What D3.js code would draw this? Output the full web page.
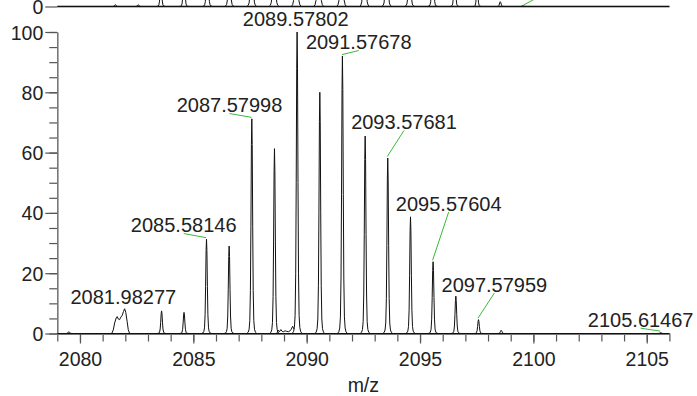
<!DOCTYPE html>
<html><head><meta charset="utf-8">
<script src="https://cdn.jsdelivr.net/npm/d3@7"></script>
<style>
body{margin:0;background:#fff}
svg{display:block}
text{font-family:"Liberation Sans",Arial,sans-serif;fill:#222}
</style>
</head><body>
<svg id="chart" width="697" height="396"></svg>
<script>
// ---------------- data ----------------
const mzDomain = [2079, 2106];
const intDomain = [0, 100];
const xTickValues = [2080, 2085, 2090, 2095, 2100, 2105];
const yTickValues = [0, 20, 40, 60, 80, 100];
const xAxisTitle = "m/z";

// bottom spectrum: isolated peaks (m/z, relative intensity)
const peakMz  = [2079.51, 2083.60, 2084.59, 2085.58146, 2086.58, 2087.57998, 2088.58, 2089.57802,
                 2090.58, 2091.57678, 2092.58, 2093.57681, 2094.58, 2095.57604, 2096.58, 2097.57959,
                 2098.58, 2105.61467];
const peakInt = [0.6, 7.5, 7.0, 31.3, 29.0, 71.2, 61.3, 100,
                 80.0, 92.0, 65.5, 58.2, 38.7, 23.8, 12.4, 4.6,
                 1.1, 0.3];

// bottom spectrum: unresolved profile around 2082 and noise near 2089
const clusterProfile = [[2081.40,0],[2081.47,1.2],[2081.53,3.5],[2081.60,5.2],[2081.64,5.6],[2081.69,4.8],
                        [2081.75,4.6],[2081.80,5.4],[2081.86,6.0],[2081.92,7.3],[2081.97,8.2],[2082.02,7.0],
                        [2082.08,4.0],[2082.13,1.3],[2082.19,0]];
const noiseProfile = [[2088.68,0],[2088.74,1.1],[2088.80,0.6],[2088.86,1.3],[2088.92,0.7],[2088.98,0.6],
                      [2089.05,0.9],[2089.12,0.7],[2089.20,0.6],[2089.27,0.9],[2089.32,1.4],[2089.38,2.4],[2089.44,1.5]];

// labelled peaks
const labelMz  = [2081.98277, 2085.58146, 2087.57998, 2089.57802, 2091.57678, 2093.57681, 2095.57604, 2097.57959, 2105.61467];
const labelInt = [8.2, 31.3, 71.2, 100, 92.0, 58.2, 23.8, 4.6, 0.3];

// top (truncated) spectrum
const topPeakMz  = [2081.56, 2082.57, 2083.57, 2084.59, 2085.62, 2086.59, 2087.58, 2088.56, 2089.54, 2090.53,
                    2091.54, 2092.55, 2093.53, 2094.54, 2095.56, 2096.53, 2097.52, 2098.54, 2099.54];
const topPeakInt = [0.6, 0.6, 9, 14, 28, 36, 60, 72, 95, 100,
                    92, 78, 58, 42, 26, 14, 6, 1.6, 0.3];
const topLabelMz = [2099.54];
const topLabelInt = [0.3];

// ---------------- layout / style ----------------
const W = 697, H = 396;
const plotLeft = 57.3, plotRight = 669.4;
const bottomZero = 333.5, bottomTop = 32;
const topZero = 6.5;
const textColor = "#222", axisColor = "#777", tickColor = "#555", lineColor = "#111", leaderColor = "#3cb83c";
const fontSize = 20, tickFont = 19.5;
// peak outline template: [pixel offset from centre, fraction of peak height]
const peakShape = [[-5,0],[-3.6,0.006],[-2.7,0.02],[-2.0,0.06],[-1.4,0.2],[-0.9,0.5],[-0.4,0.88],[0,1],
                   [0.4,0.88],[0.9,0.5],[1.4,0.2],[2.0,0.06],[2.7,0.02],[3.6,0.006],[5,0]];
// label placement: [dx, dy (baseline) from peak top in px, draw leader]
const labelLayout = [[-1.6,-4.8,false],[-22.8,-6.8,true],[-22.3,-6.5,true],[-1.4,-6.3,false],[16.3,-6.8,true],
                     [16.2,-28.7,true],[15.6,-51,true],[15.9,-27.9,true],[-20,-5.6,true]];
const topLabelLayout = [[20,-11]];

const svg = d3.select("#chart");
const x = d3.scaleLinear().domain(mzDomain).range([plotLeft, plotRight]);
const y = d3.scaleLinear().domain(intDomain).range([bottomZero, bottomTop]);
const yTop = d3.scaleLinear().domain(intDomain).range([topZero, topZero - (bottomZero - bottomTop)]);

// ---------- axes (bottom panel) ----------
// y minor
const yMinor = svg.append("g").attr("transform", `translate(${plotLeft},0)`)
  .call(d3.axisLeft(y).tickValues(d3.range(0, 101, 5)).tickSize(8).tickSizeOuter(0).tickFormat(""));
yMinor.select(".domain").remove();
yMinor.selectAll("line").attr("stroke", tickColor).attr("stroke-width", 1.2);

const yAx = svg.append("g").attr("transform", `translate(${plotLeft},0)`)
  .call(d3.axisLeft(y).tickValues(yTickValues).tickSize(12).tickSizeOuter(0).tickPadding(2));
yAx.select(".domain").attr("stroke", axisColor).attr("stroke-width", 1.6);
yAx.selectAll("line").attr("stroke", tickColor).attr("stroke-width", 1.2);
yAx.selectAll("text").attr("font-size", tickFont).attr("fill", textColor)
  .attr("font-family", '"Liberation Sans",Arial,sans-serif').attr("dy", "0.36em");

// x minor
const xMinor = svg.append("g").attr("transform", `translate(0,${bottomZero})`)
  .call(d3.axisBottom(x).tickValues(d3.range(mzDomain[0], mzDomain[1] + 1, 1)).tickSize(8).tickSizeOuter(0).tickFormat(""));
xMinor.select(".domain").remove();
xMinor.selectAll("line").attr("stroke", tickColor).attr("stroke-width", 1.2);

const xAx = svg.append("g").attr("transform", `translate(0,${bottomZero})`)
  .call(d3.axisBottom(x).tickValues(xTickValues).tickSize(10).tickSizeOuter(0).tickPadding(9).tickFormat(d3.format("d")));
xAx.select(".domain").attr("stroke", axisColor).attr("stroke-width", 1.8);
xAx.selectAll("line").attr("stroke", tickColor).attr("stroke-width", 1.2);
xAx.selectAll("text").attr("font-size", tickFont).attr("fill", textColor)
  .attr("font-family", '"Liberation Sans",Arial,sans-serif');

svg.append("text").attr("x", (plotLeft + plotRight) / 2).attr("y", 391.5)
  .attr("text-anchor", "middle").attr("font-size", tickFont).text(xAxisTitle);

// ---------- top panel axis ----------
const yTopAx = svg.append("g").attr("transform", `translate(${plotLeft},0)`)
  .call(d3.axisLeft(yTop).tickValues([0]).tickSize(12).tickSizeOuter(0).tickPadding(2));
yTopAx.select(".domain").remove();
yTopAx.selectAll("line").attr("stroke", tickColor).attr("stroke-width", 1.2);
yTopAx.selectAll("text").attr("font-size", tickFont).attr("fill", textColor)
  .attr("font-family", '"Liberation Sans",Arial,sans-serif').attr("dy", "0.36em");
svg.append("line").attr("x1", x(mzDomain[0])).attr("x2", x(mzDomain[1]))
  .attr("y1", yTop(0)).attr("y2", yTop(0)).attr("stroke", axisColor).attr("stroke-width", 1.8);

// ---------- spectra ----------
const line = d3.line();
function drawSpectrum(g, mzs, ints, ys) {
  g.append("path").attr("d", line([[x(mzDomain[0]), ys(0)], [x(mzDomain[1]), ys(0)]]))
    .attr("fill", "none").attr("stroke", lineColor).attr("stroke-width", 1);
  mzs.forEach((m, i) => {
    const pts = peakShape.map(p => [x(m) + p[0], ys(ints[i] * p[1])]);
    g.append("path").attr("d", line(pts)).attr("fill", "none")
      .attr("stroke", lineColor).attr("stroke-width", 1).attr("stroke-linejoin", "round");
  });
}
const gTop = svg.append("g");
drawSpectrum(gTop, topPeakMz, topPeakInt, yTop);
const gBot = svg.append("g");
drawSpectrum(gBot, peakMz, peakInt, y);
[clusterProfile, noiseProfile].forEach(prof => {
  gBot.append("path").attr("d", line(prof.map(d => [x(d[0]), y(d[1])])))
    .attr("fill", "none").attr("stroke", lineColor).attr("stroke-width", 1).attr("stroke-linejoin", "round");
});

// ---------- labels ----------
const gLab = svg.append("g");
labelMz.forEach((m, i) => {
  const px = x(m), py = y(labelInt[i]);
  const [dx, dy, lead] = labelLayout[i];
  const lx = px + dx, ly = py + dy;
  if (lead) {
    gLab.append("line").attr("x1", lx).attr("y1", ly + 1.2).attr("x2", px - 0.5).attr("y2", py - 1.5)
      .attr("stroke", leaderColor).attr("stroke-width", 1);
  }
  gLab.append("text").attr("x", lx).attr("y", ly).attr("text-anchor", "middle")
    .attr("font-size", fontSize).text(m.toFixed(5));
});
topLabelMz.forEach((m, i) => {
  const px = x(m), py = yTop(topLabelInt[i]);
  const [dx, dy] = topLabelLayout[i];
  gLab.append("line").attr("x1", px + 0.5).attr("y1", py - 0.5).attr("x2", px + dx).attr("y2", py + dy)
    .attr("stroke", leaderColor).attr("stroke-width", 1);
});
</script>
</body></html>
